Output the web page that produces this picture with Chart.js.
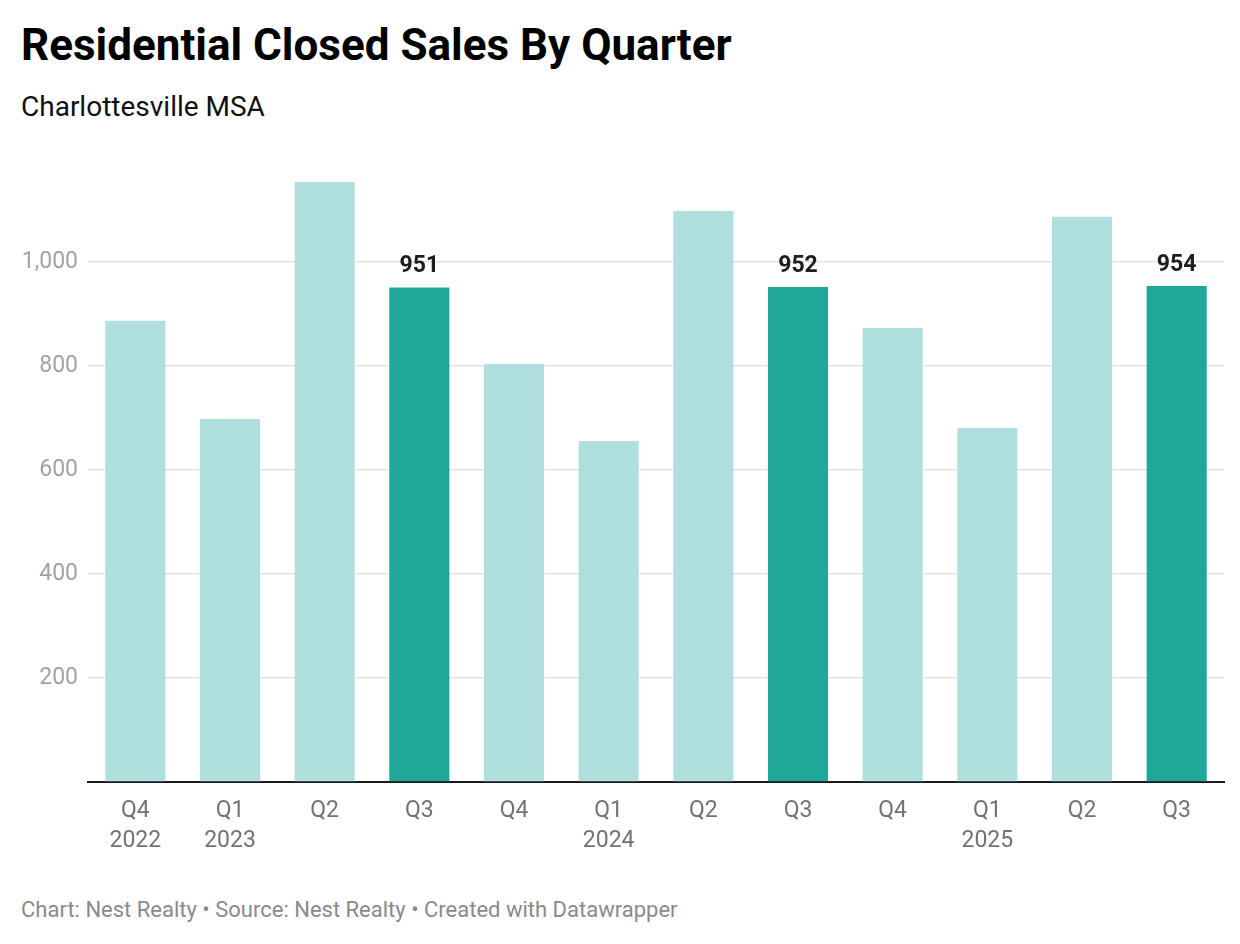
<!DOCTYPE html>
<html>
<head>
<meta charset="utf-8">
<script src="https://cdn.jsdelivr.net/npm/chart.js@4.4.1/dist/chart.umd.min.js"></script>
<style>
    body { margin: 0; background: #fff; font-family: Roboto, sans-serif; }
    .wrap { position: relative; width: 1240px; height: 944px; overflow: hidden; }
    h1 { position: absolute; left: 21px; top: 23px; margin: 0; font-size: 44px; line-height: 1; font-weight: 700; color: #000; }
    .sub { position: absolute; left: 21px; top: 93px; font-size: 28px; line-height: 1; color: #111; }
    .foot { position: absolute; left: 21px; top: 899px; font-size: 22px; line-height: 1; color: #8a8a8a; }
    .chart-box { position: absolute; left: 0; top: 130px; width: 1240px; height: 740px; }
</style>
</head>
<body>
<div class="wrap">
    <h1>Residential Closed Sales By Quarter</h1>
    <div class="sub">Charlottesville MSA</div>
    <div class="chart-box"><canvas id="salesChart"></canvas></div>
    <div class="foot">Chart: Nest Realty • Source: Nest Realty • Created with Datawrapper</div>
</div>
<script>
const quarters = [['Q4', '2022'], ['Q1', '2023'], ['Q2'], ['Q3'], ['Q4'], ['Q1', '2024'], ['Q2'], ['Q3'], ['Q4'], ['Q1', '2025'], ['Q2'], ['Q3']];
const closedSales = [887, 698, 1154, 951, 804, 656, 1098, 952, 873, 681, 1087, 954];
const highlighted = [false, false, false, true, false, false, false, true, false, false, false, true];
const yTicks = [200, 400, 600, 800, 1000];

const LIGHT = '#b0e0dd';
const DARK = '#1fa79a';

// value labels on the highlighted bars
const valueLabels = {
    id: 'valueLabels',
    afterDatasetsDraw(chart) {
        const ctx = chart.ctx;
        const meta = chart.getDatasetMeta(0);
        ctx.save();
        ctx.font = 'bold 23px Roboto';
        ctx.fillStyle = '#1d1d1d';
        ctx.textAlign = 'center';
        ctx.textBaseline = 'alphabetic';
        meta.data.forEach((bar, i) => {
            if (!highlighted[i]) return;
            ctx.fillText(closedSales[i], bar.x, bar.y - 15);
        });
        ctx.restore();
    }
};

document.addEventListener('DOMContentLoaded', () => {
    const ctx = document.getElementById('salesChart').getContext('2d');
    new Chart(ctx, {
        type: 'bar',
        data: {
            labels: quarters,
            datasets: [{
                data: closedSales,
                backgroundColor: highlighted.map(h => h ? DARK : LIGHT),
                borderWidth: 0,
                categoryPercentage: 1,
                barPercentage: 0.635
            }]
        },
        options: {
            responsive: true,
            maintainAspectRatio: false,
            animation: false,
            layout: { padding: { top: 28, right: 16, left: 0, bottom: 0 } },
            plugins: {
                legend: { display: false },
                tooltip: { enabled: false }
            },
            scales: {
                x: {
                    grid: { display: false, drawTicks: false },
                    border: { display: true, color: '#1a1a1a', width: 2 },
                    ticks: {
                        color: '#737373',
                        font: { family: 'Roboto', size: 23, lineHeight: 1.3 },
                        padding: 14,
                        maxRotation: 0,
                        autoSkip: false
                    },
                    afterFit(scale) { scale.height = 88; }
                },
                y: {
                    min: 0,
                    max: 1200,
                    afterBuildTicks(scale) {
                        scale.ticks = [0, ...yTicks, 1200].map(v => ({ value: v }));
                    },
                    grid: {
                        drawTicks: false,
                        lineWidth: 1.5,
                        color: c => yTicks.includes(c.tick.value) ? '#e3e3e3' : 'rgba(0,0,0,0)'
                    },
                    border: { display: false },
                    ticks: {
                        color: '#a3a3a3',
                        font: { family: 'Roboto', size: 23 },
                        padding: 10,
                        callback: v => yTicks.includes(v) ? v.toLocaleString('en-US') : ''
                    },
                    afterFit(scale) { scale.width = 88; }
                }
            }
        },
        plugins: [valueLabels]
    });
});
</script>
</body>
</html>
